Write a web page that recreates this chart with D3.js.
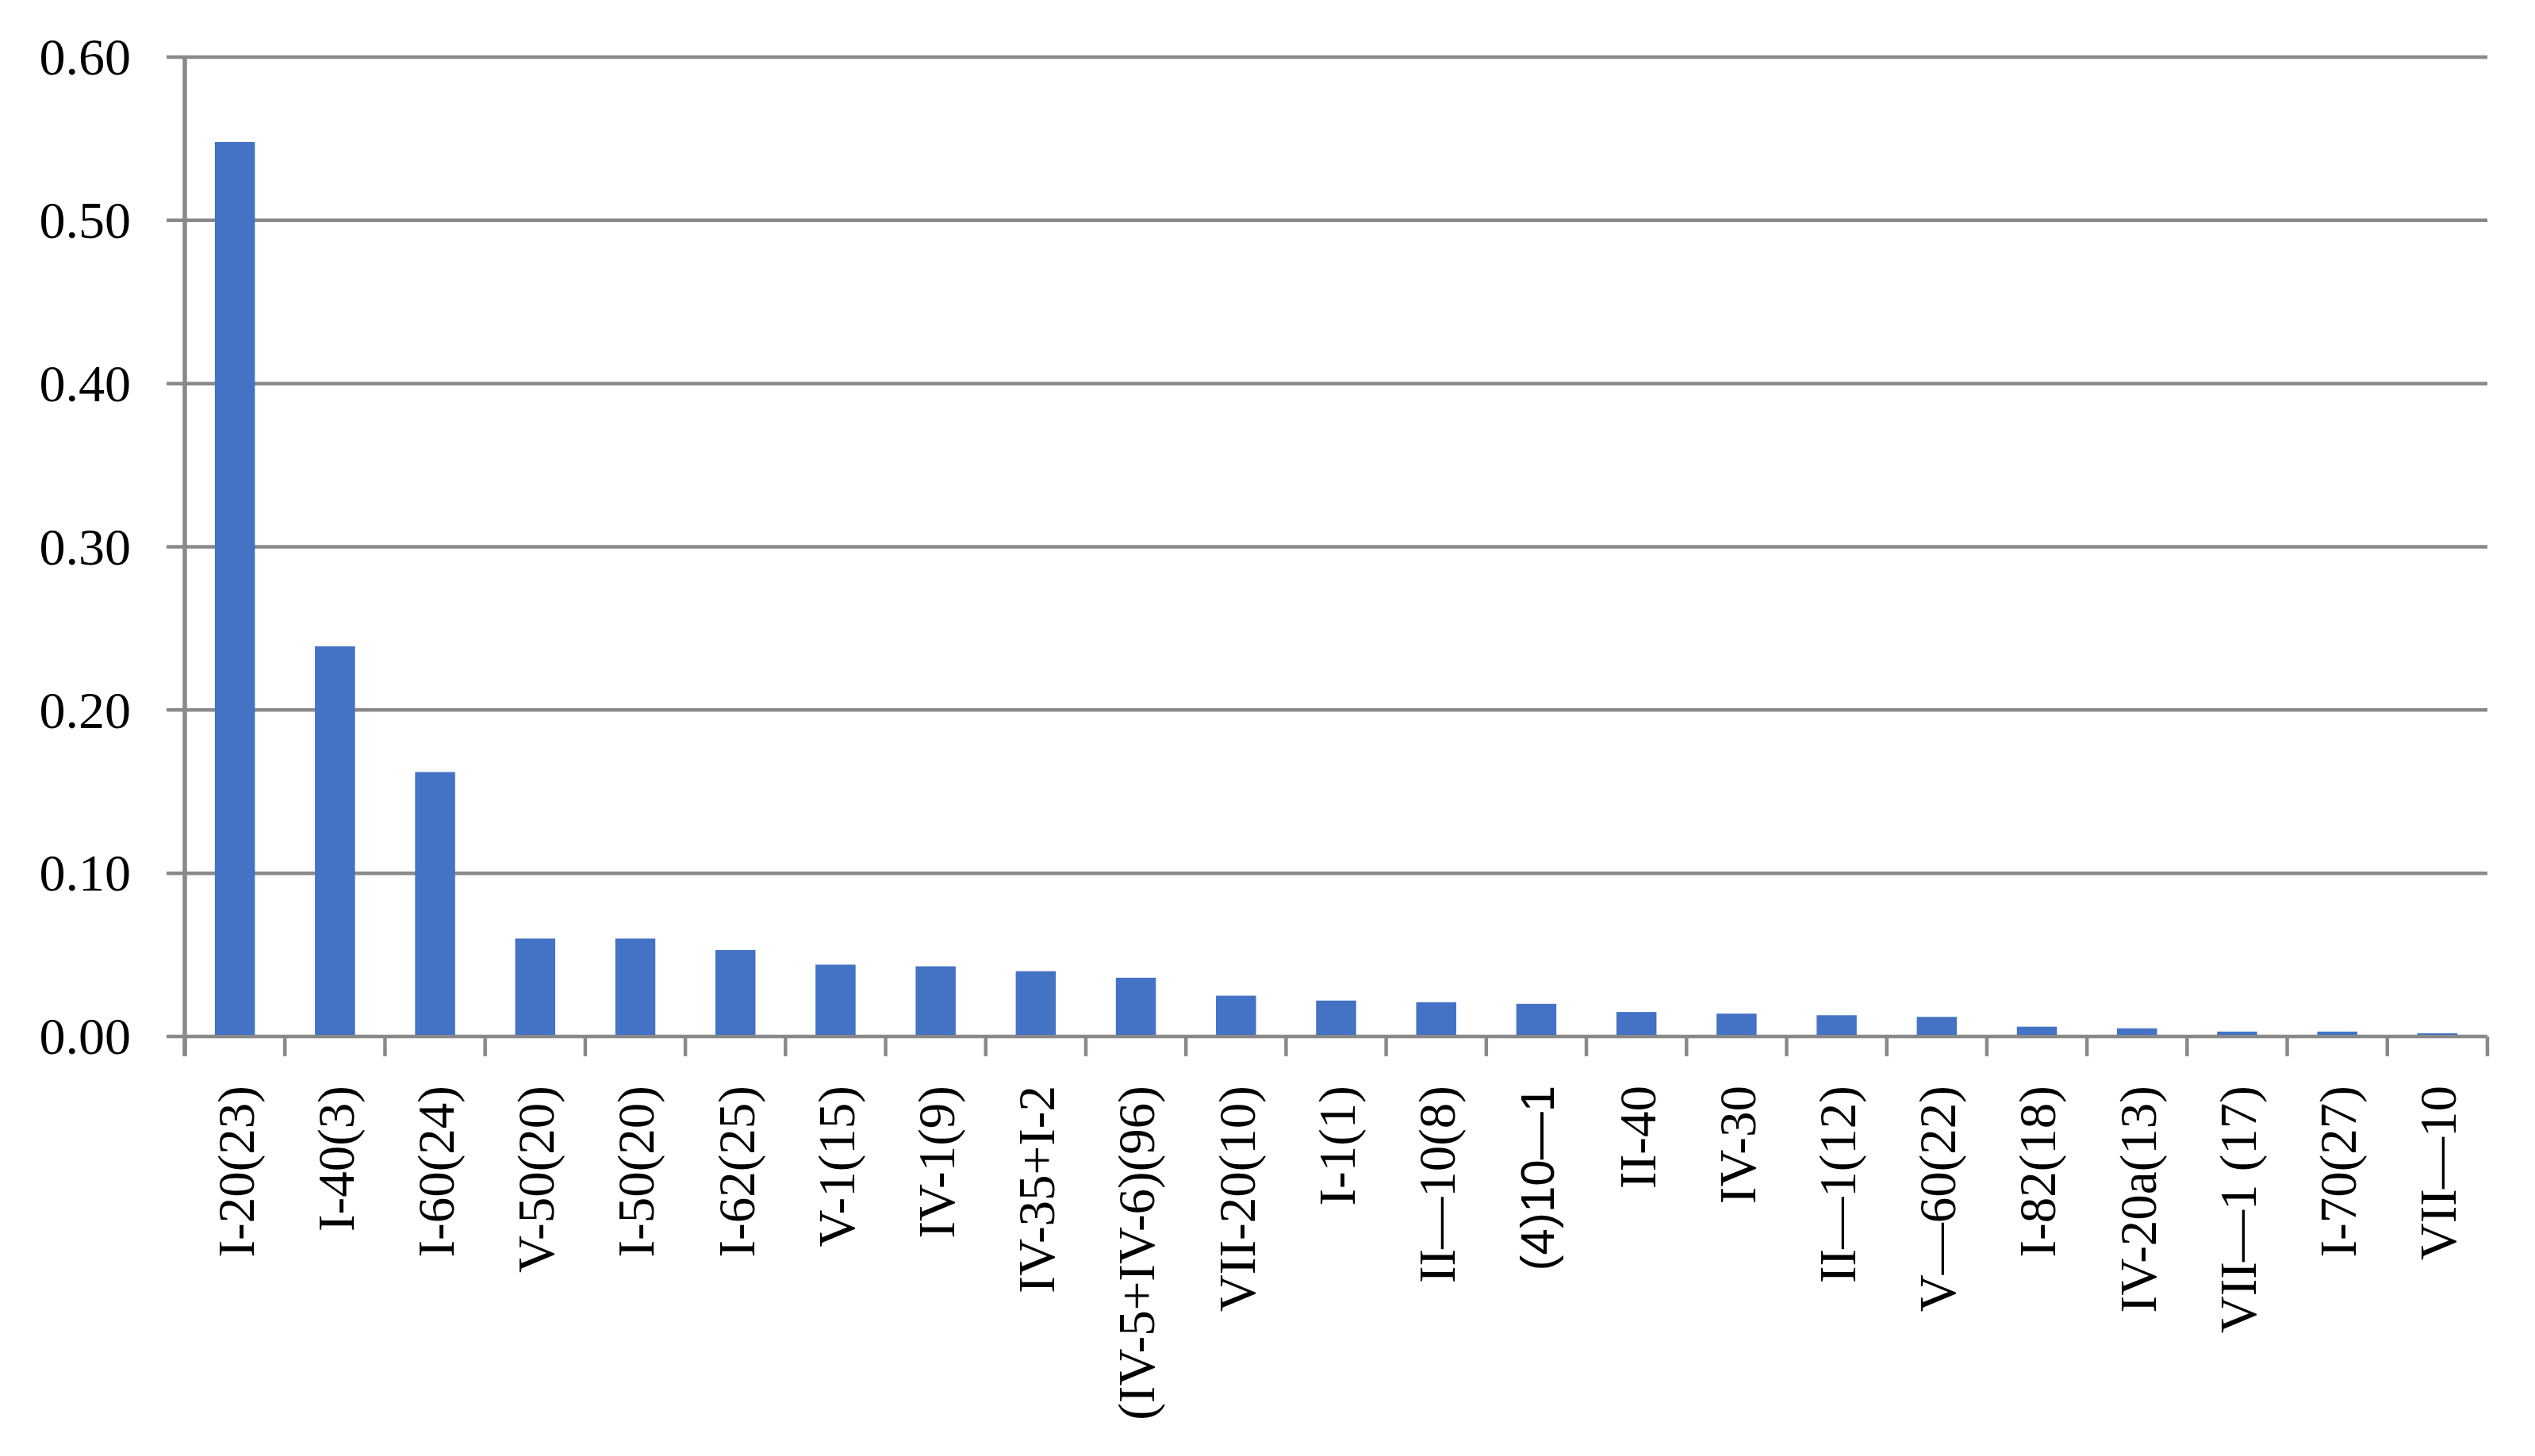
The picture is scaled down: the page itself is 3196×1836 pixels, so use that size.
<!DOCTYPE html>
<html>
<head>
<meta charset="utf-8">
<script src="https://cdn.jsdelivr.net/npm/d3@7"></script>
<style>
  body { margin: 0; background: #fff; }
  svg { display: block; }
</style>
</head>
<body>
<svg id="chart"></svg>
<script>
const categories = ["I-20(23)", "I-40(3)", "I-60(24)", "V-50(20)", "I-50(20)", "I-62(25)", "V-1(15)",
  "IV-1(9)", "IV-35+I-2", "(IV-5+IV-6)(96)", "VII-20(10)", "I-1(1)", "II\u201410(8)", "(4)10\u20141",
  "II-40", "IV-30", "II\u20141(12)", "V\u201460(22)", "I-82(18)", "IV-20a(13)", "VII\u20141 (17)",
  "I-70(27)", "VII\u201410"]
const values = [0.548, 0.239, 0.162, 0.060, 0.060, 0.053, 0.044,
  0.043, 0.040, 0.036, 0.025, 0.022, 0.021, 0.020,
  0.015, 0.014, 0.013, 0.012, 0.006, 0.005, 0.003,
  0.003, 0.002]
const yTicks = [0, 0.1, 0.2, 0.3, 0.4, 0.5, 0.6]
// labels drawn in a sans face in the original
const sansLabels = ["(4)10\u20141"]

const width = 3196
const height = 1836
const margin = {top: 72, right: 60, bottom: 529, left: 233}
const grey = "#898989"
const serif = "'Palatino Linotype', 'Book Antiqua', Palatino, 'Liberation Serif', 'Times New Roman', serif"

const svg = d3.select("#chart")
    .attr("width", width)
    .attr("height", height)

const x = d3.scaleBand()
    .domain(categories)
    .range([margin.left, width - margin.right])
    .paddingInner(0.6)
    .paddingOuter(0.3)

const y = d3.scaleLinear()
    .domain([0, 0.6])
    .range([height - margin.bottom, margin.top])

// gridlines
svg.append("g")
  .selectAll("line")
  .data(yTicks)
  .join("line")
    .attr("x1", margin.left - 23)
    .attr("x2", width - margin.right)
    .attr("y1", d => y(d))
    .attr("y2", d => y(d))
    .attr("stroke", grey)
    .attr("stroke-width", 4.5)

// bars
svg.append("g")
  .selectAll("rect")
  .data(categories)
  .join("rect")
    .attr("x", d => x(d))
    .attr("width", x.bandwidth())
    .attr("y", (d, i) => y(values[i]))
    .attr("height", (d, i) => y(0) - y(values[i]) - 2)
    .attr("fill", "#4472C4")

// vertical axis line
svg.append("line")
    .attr("x1", margin.left).attr("x2", margin.left)
    .attr("y1", y(0.6) - 2).attr("y2", y(0) + 25)
    .attr("stroke", grey)
    .attr("stroke-width", 5.5)

// category boundary ticks
const x0 = x.range()[0]
svg.append("g")
  .selectAll("line")
  .data(d3.range(categories.length + 1))
  .join("line")
    .attr("x1", i => x0 + i * x.step())
    .attr("x2", i => x0 + i * x.step())
    .attr("y1", y(0))
    .attr("y2", y(0) + 25)
    .attr("stroke", grey)
    .attr("stroke-width", 4.5)

// y axis labels
const yAxis = svg.append("g")
    .attr("transform", `translate(${margin.left},0)`)
    .call(d3.axisLeft(y).tickValues(yTicks).tickFormat(d3.format(".2f")).tickSize(23).tickPadding(45))
yAxis.select(".domain").remove()
yAxis.selectAll(".tick line").remove()
yAxis.selectAll("text")
    .attr("font-family", serif)
    .attr("font-size", 66)
    .attr("fill", "#000")
    .attr("dy", "0.33em")

// x axis labels
const xAxis = svg.append("g")
    .attr("transform", `translate(0,${y(0)})`)
    .call(d3.axisBottom(x).tickSize(0))
xAxis.select(".domain").remove()
xAxis.selectAll("text")
    .attr("transform", "rotate(-90)")
    .attr("text-anchor", "end")
    .attr("x", -62)
    .attr("y", 0)
    .attr("dy", "0.36em")
    .attr("font-family", d => sansLabels.includes(d) ? "'Liberation Sans', Arial, sans-serif" : serif)
    .attr("font-size", d => sansLabels.includes(d) ? 60 : 65)
    .attr("fill", "#000")
</script>
</body>
</html>
